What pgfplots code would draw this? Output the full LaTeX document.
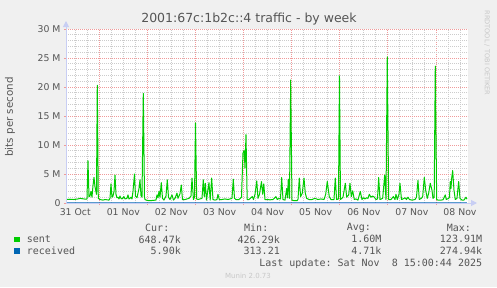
\documentclass[border=0pt]{standalone}
\usepackage{fontspec}
\setmainfont{DejaVu Sans}
\setmonofont{DejaVu Sans Mono}
\usepackage{pgfplots}
\usepackage{pgfplotstable}
\pgfplotsset{compat=1.18}
\usetikzlibrary{arrows.meta}
\definecolor{bgc}{HTML}{F0F0F0}
\definecolor{txt}{HTML}{555555}
\definecolor{sentc}{HTML}{00CC00}
\definecolor{recvc}{HTML}{0066B3}
\definecolor{mgrid}{HTML}{F09A9A}
\definecolor{ngrid}{HTML}{CCCCCC}
\definecolor{axc}{HTML}{C8CEF4}
\definecolor{wm}{HTML}{C8C8C8}

% hours since 31 Oct 00:00, bits per second in millions
\pgfplotstableread{
h v
7.39 0.6
9.38 0.65
11.38 0.6
13.37 0.7
14.37 0.8
15.37 0.75
16.37 0.7
17.37 0.65
17.86 0.7
18.36 7.3
18.86 1.1
19.36 1.2
19.86 2.0
20.36 1.0
20.86 3.0
21.36 4.4
21.86 2.8
22.6 1.5
23.0 20.3
23.5 0.8
24.35 0.6
25.85 0.5
26.85 0.6
27.84 0.55
28.84 0.5
29.34 0.8
29.84 3.3
30.34 1.0
30.84 1.2
31.34 2.0
31.84 4.8
32.34 1.5
32.83 0.9
33.33 1.0
33.83 0.7
34.33 1.2
34.83 0.8
35.33 0.7
36.33 1.1
36.83 0.7
37.82 0.8
38.32 1.4
38.82 0.7
39.32 0.8
39.82 1.0
40.32 0.7
40.82 2.0
41.57 5.0
42.07 1.2
42.81 0.9
43.81 2.5
44.31 4.0
44.81 1.3
45.31 1.0
45.96 18.9
46.56 1.0
46.81 0.6
47.80 0.45
49.30 0.4
50.80 0.45
52.30 0.5
52.79 1.4
53.29 0.9
53.79 2.0
54.29 1.0
54.94 3.5
55.54 0.8
56.29 0.5
57.29 1.2
57.93 4.0
58.53 1.0
59.28 0.6
60.28 1.4
61.03 0.5
61.78 0.8
62.77 1.7
63.27 0.8
64.27 1.6
64.92 3.1
65.52 0.6
66.77 0.6
67.76 0.7
68.76 0.8
69.76 1.2
70.26 4.3
71.01 0.6
71.51 1.0
72.01 13.8
72.60 0.7
73.25 0.6
74.25 0.7
75.25 0.8
75.90 4.0
76.40 1.1
76.90 3.4
77.49 0.5
78.09 2.0
78.74 3.5
79.34 0.5
80.09 4.3
80.74 0.6
81.74 0.5
82.73 0.6
83.23 1.5
83.88 0.6
85.23 0.6
86.73 0.7
88.22 0.6
89.22 0.7
90.22 0.8
90.87 4.1
91.47 0.8
92.22 0.6
93.71 0.6
94.96 1.0
95.71 8.6
96.31 9.1
96.71 6.0
97.21 11.8
97.80 0.6
98.70 0.6
100.35 1.1
100.95 0.6
101.70 1.5
102.59 3.8
103.19 0.8
103.94 1.5
104.94 3.7
105.54 1.5
106.09 3.3
106.69 0.6
107.68 0.6
109.18 0.55
110.68 0.6
112.18 1.1
112.82 0.6
113.67 0.8
114.42 0.7
115.02 4.4
115.67 0.6
116.67 0.5
117.51 2.5
117.91 0.9
118.31 4.1
118.91 0.8
119.51 21.2
120.16 0.5
121.16 0.4
122.65 0.4
123.15 0.6
123.80 4.3
124.45 1.1
125.30 1.7
126.15 4.3
126.80 1.7
127.49 0.8
128.64 0.6
130.14 0.6
131.64 0.8
133.13 0.6
134.63 0.7
136.13 0.6
136.98 1.5
137.77 3.7
138.77 1.1
139.62 0.6
141.12 0.6
141.77 4.3
142.41 0.6
143.36 0.7
143.86 21.9
144.36 0.6
145.61 1.0
146.76 3.4
147.45 1.0
148.45 1.4
149.10 3.4
149.75 1.1
150.45 2.1
151.25 0.6
152.10 0.7
153.09 0.5
154.24 2.0
155.09 0.6
155.84 0.9
156.59 0.7
157.33 0.9
158.08 0.8
158.73 1.5
159.58 1.0
160.43 1.2
161.23 1.0
162.08 0.6
162.82 0.7
163.42 4.4
164.07 0.6
165.42 0.8
166.42 4.8
167.07 0.6
167.71 25.2
168.41 0.6
169.56 0.6
170.71 1.1
171.56 0.6
172.06 1.5
172.70 0.6
173.55 1.5
174.05 3.4
174.80 0.6
175.55 0.7
176.55 0.9
177.29 0.6
178.04 1.0
178.79 0.6
180.04 0.5
181.54 0.6
182.28 1.0
183.03 3.9
183.68 0.6
184.68 0.8
185.38 1.1
186.18 4.4
186.88 2.2
187.67 0.8
188.37 1.7
189.17 3.4
190.02 2.2
190.52 0.8
191.12 1.0
191.67 23.6
192.36 0.6
193.01 0.5
194.51 0.5
195.51 0.55
196.66 1.4
197.15 0.6
198.35 0.8
198.75 1.0
199.15 3.7
199.50 2.5
199.85 4.3
200.35 5.6
201.00 2.2
201.65 0.6
202.49 0.8
203.34 3.7
203.99 0.8
204.99 0.5
205.99 0.5
206.99 1.0
207.48 0.65
}\sent

\pgfplotstableread{
h v
7.39 0.004
40 0.005
80 0.004
120 0.006
160 0.005
207.48 0.006
}\received

\begin{document}
\begin{tikzpicture}[x=1bp,y=1bp]
\useasboundingbox (0,0) rectangle (497,287);
\fill[bgc] (0,0) rectangle (497,287);
\begin{axis}[
  at={(66bp,84bp)}, anchor=south west,
  scale only axis, width=402bp, height=174bp,
  xmin=7.39, xmax=208.0, ymin=0, ymax=30,
  axis background/.style={fill=white},
  axis line style={draw=none},
  xtick={24,48,...,192}, xticklabels={,,,,,,,,},
  minor xtick={6,12,...,204},
  extra x ticks={12,36,60,84,108,132,156,180,204},
  extra x tick labels={31 Oct,01 Nov,02 Nov,03 Nov,04 Nov,05 Nov,06 Nov,07 Nov,08 Nov},
  extra x tick style={grid=none, major tick length=0pt},
  ytick={0,5,...,30}, yticklabels={0,5 M,10 M,15 M,20 M,25 M,30 M},
  minor ytick={1,...,29},
  xmajorgrids, xminorgrids, ymajorgrids, yminorgrids,
  major grid style={mgrid, line width=0.8bp, dash pattern=on 1bp off 1bp},
  minor grid style={ngrid, line width=0.8bp, dash pattern=on 1bp off 1bp},
  tick align=outside, major tick length=2bp, minor tick length=0pt,
  xtick pos=bottom, ytick pos=left,
  major tick style={mgrid, line width=0.8bp},
  tick label style={font=\fontsize{9.33bp}{11bp}\selectfont, text=txt},
  x tick label style={yshift=-2bp},
]
\addplot[recvc, line width=1bp] table[x=h,y=v]{\received};
\addplot[sentc, line width=1bp, line join=round] table[x=h,y=v]{\sent};
\end{axis}
\draw[axc, line width=1bp, -{Triangle[length=6bp,width=6bp]}] (66,84) -- (477,84);
\draw[axc, line width=1bp, -{Triangle[length=6bp,width=6bp]}] (66,84) -- (66,266);
% titles
\node[inner sep=0, text=txt, font=\fontsize{12.5bp}{14bp}\selectfont] at (249,268) {2001:67c:1b2c::4 traffic - by week};
\node[inner sep=0, rotate=90, text=txt, font=\fontsize{10.3bp}{12bp}\selectfont] at (10,170) {bits per second};
\node[inner sep=0, rotate=-90, text=wm, font=\fontsize{6.6bp}{8bp}\selectfont] at (487,234) {RRDTOOL / TOBI OETIKER};
% legend
\begin{scope}[every node/.style={inner sep=0, text=txt, font=\fontsize{10bp}{12bp}\ttfamily}]
\node[anchor=west] at (145,59.3) {Cur:};
\node[anchor=west] at (244,59.3) {Min:};
\node[anchor=west] at (346.7,59.3) {Avg:};
\node[anchor=west] at (446.7,59.3) {Max:};
\fill[sentc] (14,45.2) rectangle (19.5,50.4);
\node[anchor=west] at (26.7,47.7) {sent};
\node[anchor=east] at (181,47.7) {648.47k};
\node[anchor=east] at (280,47.7) {426.29k};
\node[anchor=east] at (381.7,47.7) {1.60M};
\node[anchor=east] at (482.3,47.7) {123.91M};
\fill[recvc] (14,33.4) rectangle (19.5,38.6);
\node[anchor=west] at (26.7,36) {received};
\node[anchor=east] at (181,36) {5.90k};
\node[anchor=east] at (280,36) {313.21};
\node[anchor=east] at (381.7,36) {4.71k};
\node[anchor=east] at (482.3,36) {274.94k};
\node[anchor=east] at (482.3,23) {Last update: Sat Nov\ \ 8 15:00:44 2025};
\end{scope}
\node[inner sep=0, text=wm, font=\fontsize{7bp}{8bp}\selectfont] at (248,11) {Munin 2.0.73};
\end{tikzpicture}
\end{document}
